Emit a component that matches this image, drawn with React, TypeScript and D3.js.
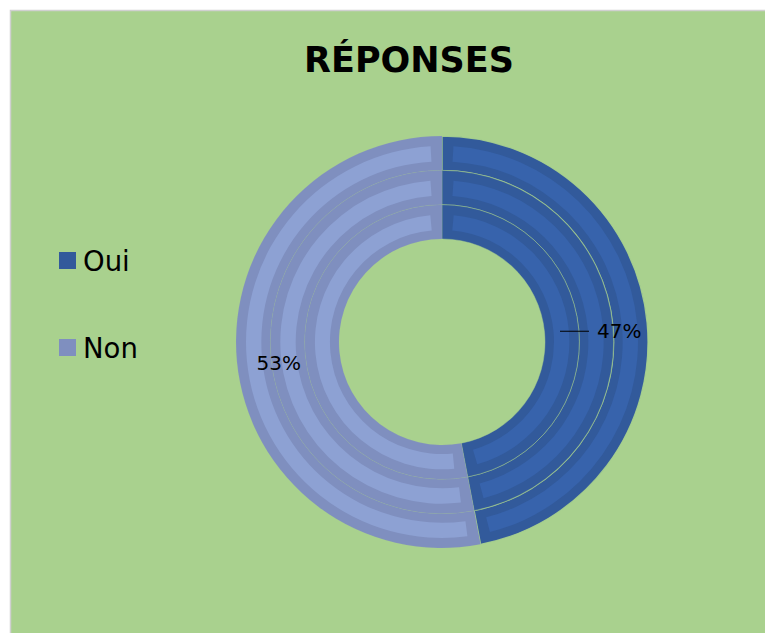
import React from "react";
import * as d3 from "d3";

const categories = ["Oui", "Non"];
const ringOuter = [47, 53];
const ringMiddle = [47, 53];
const ringInner = [47, 53];
const rings = [ringOuter, ringMiddle, ringInner];
const title = "RÉPONSES";

const W = 765;
const H = 633;
const BG = "#A9D18E";
const mainColors = ["#325A9B", "#7F8FBF"];
const lightColors = ["#3763AC", "#8DA1D3"];

export default function App() {
  const cx = 442;
  const cy = 342;
  const rOuter = 206;
  const rHole = 103;
  const ringW = (rOuter - rHole) / rings.length;

  const pie = d3.pie<number>().sort(null).value((d) => d);
  const color = d3.scaleOrdinal<string, string>().domain(categories).range(mainColors);
  const light = d3.scaleOrdinal<string, string>().domain(categories).range(lightColors);

  const arcs: React.ReactNode[] = [];
  rings.forEach((vals, ri) => {
    const ro = rOuter - ri * ringW;
    const rin = ro - ringW;
    const slices = pie(vals);
    slices.forEach((s, si) => {
      const cat = categories[si];
      const full = d3.arc<any>().innerRadius(rin).outerRadius(ro)(s as any) as string;
      const bi = rin + 9;
      const bo = ro - 10;
      const mid = (bi + bo) / 2;
      const inset = 11 / mid;
      const band = d3
        .arc<any>()
        .innerRadius(bi)
        .outerRadius(bo)({ startAngle: s.startAngle + inset, endAngle: s.endAngle - inset }) as string;
      const sw = si === 0 ? (ri === 0 ? 1.3 : 0.5) : 0.4;
      const so = si === 0 ? 0.9 : 0.25;
      arcs.push(
        <g key={`r${ri}s${si}`}>
          <path d={full} fill={color(cat)} stroke={BG} strokeWidth={sw} strokeOpacity={so} />
          <path d={band} fill={light(cat)} />
        </g>
      );
    });
  });

  const outerSlices = pie(ringOuter);
  const total = d3.sum(ringOuter);
  const labelArcR = [178, 164];
  const labels = outerSlices.map((s, i) => {
    const r = labelArcR[i];
    const a = (s.startAngle + s.endAngle) / 2;
    const x = Math.sin(a) * r;
    const y = -Math.cos(a) * r;
    const pct = Math.round((s.value / total) * 100) + "%";
    return { x, y, pct, a };
  });

  const legendY = [252, 339];

  return (
    <svg
      width={W}
      height={H}
      style={{ position: "absolute", left: 0, top: 0, background: "#fff" }}
      fontFamily="'DejaVu Sans', Verdana, sans-serif"
    >
      <rect x={10.5} y={10.5} width={W} height={H} fill={BG} stroke="#D0D0D0" strokeWidth={1.5} />
      <text x={409} y={72} textAnchor="middle" fontSize={35} fontWeight="bold" fill="#000">
        {title}
      </text>
      <g transform={`translate(${cx},${cy})`}>
        {arcs}
        <line x1={118} x2={147} y1={labels[0].y + 6} y2={labels[0].y + 6} stroke="#000" strokeWidth={1} />
        {labels.map((l, i) => (
          <text key={i} x={l.x} y={l.y + 7} textAnchor="middle" dominantBaseline="middle" fontSize={20} fill="#000">
            {l.pct}
          </text>
        ))}
      </g>
      {categories.map((c, i) => (
        <g key={c}>
          <rect x={59} y={legendY[i]} width={17} height={17} fill={color(c)} />
          <text x={83} y={legendY[i] + 19} fontSize={27.5} fill="#000">
            {c}
          </text>
        </g>
      ))}
    </svg>
  );
}
